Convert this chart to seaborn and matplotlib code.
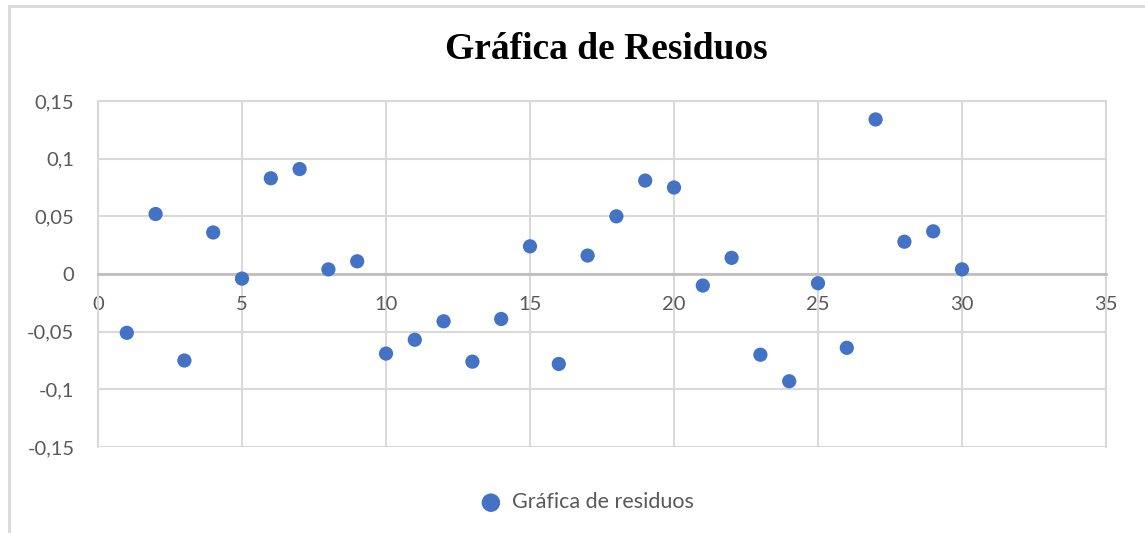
import numpy as np
import pandas as pd
import matplotlib
matplotlib.use("Agg")
import matplotlib.pyplot as plt
import matplotlib.patches as mpatches
import seaborn as sns

# datos
observacion = list(range(1, 31))
residuos = [-0.051, 0.052, -0.075, 0.036, -0.004, 0.083, 0.091, 0.004, 0.011, -0.069,
            -0.057, -0.041, -0.076, -0.039, 0.024, -0.078, 0.016, 0.050, 0.081, 0.075,
            -0.010, 0.014, -0.070, -0.093, -0.008, -0.064, 0.134, 0.028, 0.037, 0.004]
x_ticks = [0, 5, 10, 15, 20, 25, 30, 35]
y_ticks = [-0.15, -0.1, -0.05, 0, 0.05, 0.1, 0.15]
y_labels = ["-0,15", "-0,1", "-0,05", "0", "0,05", "0,1", "0,15"]

df = pd.DataFrame({"obs": observacion, "res": residuos})

sns.set_style("white")
plt.rcParams["font.family"] = ["Lato", "DejaVu Sans"]

grid_c = "#d9d9d9"
text_c = "#595959"
azul = "#4472C4"

fig = plt.figure(figsize=(11.45, 5.33), dpi=100)
ax = fig.add_axes([98/1145, 1-447/533, (1106-98)/1145, (447-101)/533])

sns.scatterplot(data=df, x="obs", y="res", ax=ax, color=azul, s=105,
                edgecolor="none", label="Gráfica de residuos", zorder=3)

ax.set_xlim(0, 35)
ax.set_ylim(-0.15, 0.15)
ax.set_xticks(x_ticks)
ax.set_yticks(y_ticks)
ax.set_yticklabels(y_labels)
ax.grid(True, color=grid_c, linewidth=1.5)
ax.set_axisbelow(True)

for s in ["top", "right", "left"]:
    ax.spines[s].set_color(grid_c)
    ax.spines[s].set_linewidth(1.5)
ax.spines["bottom"].set_position(("data", 0))
ax.spines["bottom"].set_color("#bfbfbf")
ax.spines["bottom"].set_linewidth(2)

ax.tick_params(axis="x", length=0, pad=16, labelsize=14.5, labelcolor=text_c)
ax.tick_params(axis="y", length=0, pad=17, labelsize=14.5, labelcolor=text_c)
ax.set_xlabel("")
ax.set_ylabel("")

ax.set_title("Gráfica de Residuos", fontfamily="Liberation Serif", fontweight="bold",
             fontsize=27, color="black", pad=30, x=0.504)

leg = ax.legend(loc="upper center", bbox_to_anchor=(0.48, -0.075), frameon=False,
                fontsize=15.5, handletextpad=0.0, markerscale=1.3)
for t in leg.get_texts():
    t.set_color(text_c)

# borde del area del grafico
fig.add_artist(mpatches.Rectangle((9/1145, -0.1), 1.2, 1 - 6/533 + 0.1,
                                  transform=fig.transFigure, fill=False,
                                  edgecolor=grid_c, linewidth=2))

fig.savefig("out.png", dpi=100)
